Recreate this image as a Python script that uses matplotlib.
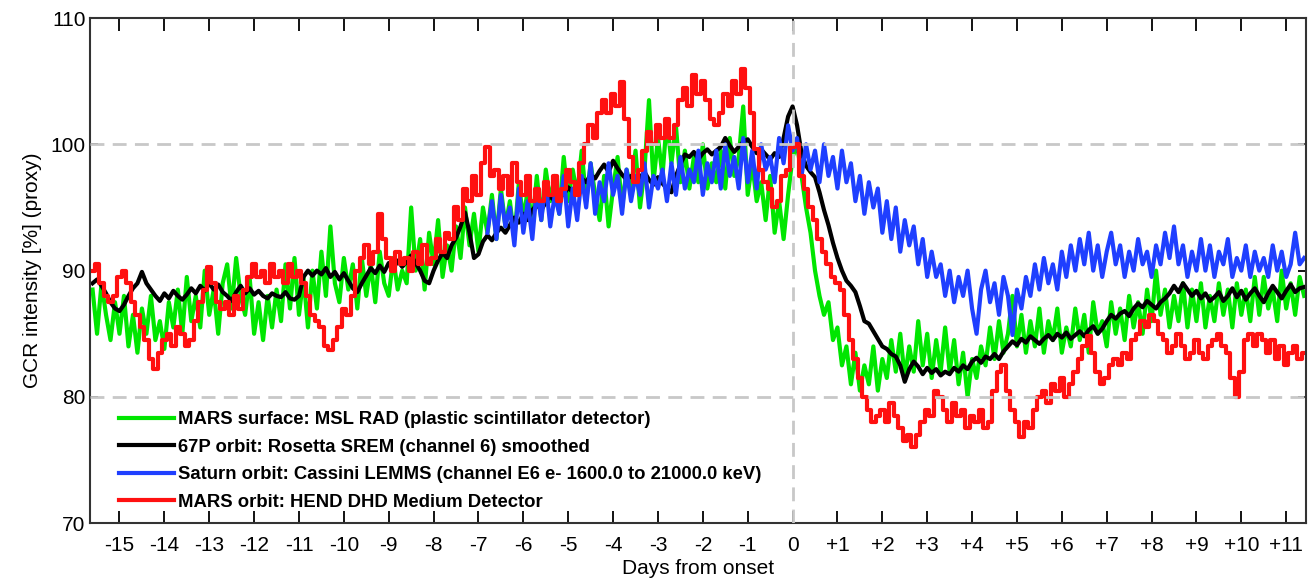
import numpy as np
import matplotlib
matplotlib.use("Agg")
import matplotlib.pyplot as plt

plt.rcParams['font.family'] = ['Liberation Sans', 'DejaVu Sans']

# time axis: days from onset, sampled every 0.1 day
t_start = -15.6
t_start_blue = -6.8
t_step = 0.1

msl_rad = [
    88.5, 85.0, 89.0, 86.5, 84.5, 87.5, 85.0, 88.0, 84.0, 86.5,
    83.5, 87.0, 85.0, 88.0, 84.5, 86.0, 83.8, 87.5, 85.5, 88.5,
    85.0, 89.5, 86.0, 88.0, 85.5, 90.0, 86.5, 88.5, 85.0, 89.0,
    90.5, 87.0, 91.0, 88.0, 86.5, 89.5, 85.0, 87.5, 84.5, 88.0,
    85.5, 88.5, 86.0, 90.5, 87.0, 91.0, 86.5, 89.5, 85.5, 90.0,
    87.0, 91.5, 88.0, 93.5, 89.0, 87.5, 91.0, 88.5, 90.5, 87.0,
    91.0, 88.0, 90.5, 87.5, 91.5, 89.0, 88.0, 91.0, 88.5, 90.0,
    89.0, 95.0, 90.0, 92.5, 88.5, 93.0, 90.5, 94.0, 89.5, 92.0,
    90.0, 93.5, 91.0, 95.0, 92.0, 94.5, 91.5, 95.0, 93.0, 96.0,
    92.5, 96.5, 93.5, 95.5, 92.5, 97.0, 94.0, 96.5, 93.5, 97.5,
    94.0, 98.0, 95.5, 97.5, 94.5, 99.0, 95.5, 98.0, 96.0, 99.5,
    95.5, 98.5, 96.0, 94.0, 97.5, 93.5, 96.5, 99.0, 95.0, 98.0,
    96.5, 99.5, 95.0, 98.0, 103.5, 97.0, 100.5, 97.5, 102.0, 98.5,
    101.5, 97.0, 99.5, 96.5, 99.0, 97.0, 100.0, 96.5, 98.5, 97.0,
    99.5, 96.5, 100.5, 97.5, 99.0, 103.0, 96.0, 98.5, 95.5, 97.0,
    94.0, 97.5, 93.0, 95.5, 92.5, 96.0, 99.0, 100.0, 97.5, 95.0,
    93.0, 90.0, 88.0, 86.5, 87.5, 84.5, 85.5, 82.5, 84.0, 81.0,
    83.5, 80.5, 82.5, 81.0, 84.0, 80.5, 83.0, 81.5, 84.5, 82.0,
    85.0, 81.5, 84.0, 82.0, 86.0, 82.5, 85.0, 81.5, 84.5, 82.0,
    85.5, 82.0, 84.5, 81.0, 83.5, 80.0, 83.0, 81.5, 84.0, 82.5,
    85.5, 83.0, 86.0, 83.5, 85.0, 88.0, 84.0, 86.5, 83.5, 86.0,
    84.0, 87.0, 83.5, 86.0, 84.5, 87.0, 83.5, 85.5, 84.0, 87.0,
    84.5, 86.5, 83.5, 87.5, 85.0, 86.0, 84.0, 87.5, 85.0, 87.0,
    84.5, 88.0, 85.5, 87.5, 85.0, 88.5, 86.0, 90.0, 86.5, 88.5,
    85.5, 88.0, 86.0, 89.0, 85.5, 88.5, 86.0, 89.0, 85.5, 88.0,
    86.0, 89.0, 86.5, 88.5, 85.5, 89.0, 86.5, 88.5, 86.0, 89.5,
    86.5, 89.5, 87.0, 88.5, 86.0, 90.0, 87.0, 89.0, 86.5, 89.5,
    88.0,
]

rosetta_srem = [
    89.0, 89.3, 88.8, 88.2, 87.5, 87.0, 86.8, 87.3, 88.0, 88.6,
    89.0, 89.9, 89.0, 88.5, 88.0, 87.6, 88.2, 87.8, 88.4, 88.0,
    87.7, 88.1, 88.6, 88.2, 88.8, 88.4, 89.0, 88.5, 88.9, 88.3,
    88.0, 87.6, 88.3, 88.8, 88.2, 88.6, 88.1, 88.4, 88.0, 87.8,
    88.2, 88.0, 87.9, 88.3, 87.8, 87.7, 88.0, 89.5, 90.0, 89.6,
    90.0, 89.7, 90.2, 89.5, 89.9, 89.3, 89.8, 89.2, 88.6, 88.3,
    89.0, 89.6, 90.2, 89.8, 90.4, 89.9, 90.6, 90.1, 90.8, 90.3,
    90.7, 91.2, 90.6, 90.0, 89.2, 89.0, 90.0, 90.8, 91.4, 91.0,
    92.0, 92.6, 93.5, 94.6, 93.0, 91.0, 91.3, 92.3, 92.8, 92.4,
    93.0, 93.4, 93.0, 93.6, 94.2, 93.8, 94.5, 94.0, 94.8, 95.2,
    94.8, 95.4, 95.9, 95.5, 96.2, 96.0, 96.6, 96.2, 96.9, 97.3,
    97.0, 97.6, 97.3, 97.9, 98.4, 97.8, 98.7, 98.1, 97.6, 97.2,
    97.5, 97.0, 97.4, 97.8, 97.2, 96.8, 97.4, 96.9, 96.5, 96.2,
    97.5, 98.4, 99.2, 99.0, 99.4, 98.8, 99.3, 99.6, 99.2, 99.5,
    99.8, 100.5, 99.9, 99.4, 99.8, 100.2, 100.4, 99.8, 99.3, 99.6,
    99.2, 98.8, 99.3, 99.0, 100.5, 102.2, 103.0, 101.5, 99.3, 98.3,
    97.8, 97.4, 96.2, 94.8, 93.6, 92.2, 91.0, 90.0, 89.2, 88.8,
    88.3, 87.2, 86.0, 85.8, 85.2, 84.6, 84.0, 83.8, 83.4, 83.2,
    82.5, 81.2, 82.2, 82.8, 82.4, 81.8, 82.3, 81.9, 82.2, 81.7,
    82.0, 81.8, 82.3, 82.0, 82.5, 82.2, 82.8, 83.1, 82.7, 83.2,
    83.0, 83.4, 83.0, 83.6, 84.0, 84.4, 84.1, 84.6, 84.3, 84.8,
    84.5, 84.2, 84.6, 84.9, 84.5, 85.0, 84.7, 85.1, 84.6, 84.9,
    85.2, 84.8, 85.3, 85.6, 85.0, 85.4, 86.0, 86.5, 86.2, 86.6,
    86.8, 86.4, 87.0, 87.4, 87.1, 87.6, 87.3, 87.0, 87.5, 87.8,
    88.2, 88.8, 88.3, 89.0, 88.5, 88.0, 88.4, 87.8, 88.2, 87.6,
    87.9, 88.3, 87.6, 88.0, 88.6, 87.9, 88.4, 87.7, 88.2, 88.6,
    88.0, 87.5, 88.2, 88.8, 88.3, 87.8, 88.4, 88.9, 88.3, 88.6,
    88.7,
]

cassini_lemms = [
    93.0, 95.5, 92.5, 96.0, 93.5, 95.0, 92.0, 96.5, 93.0, 95.5,
    92.5, 96.5, 94.0, 97.0, 93.5, 96.0, 94.5, 97.5, 93.5, 96.5,
    94.0, 97.5, 95.0, 98.5, 94.5, 97.0, 95.5, 98.5, 96.0, 97.5,
    94.5, 98.0, 95.5, 97.5, 96.0, 98.5, 95.0, 97.5, 96.5, 98.0,
    95.5, 98.5, 96.0, 99.0, 96.5, 98.0, 97.0, 99.5, 96.0, 98.5,
    97.0, 99.5, 96.5, 100.0, 97.5, 99.0, 96.5, 100.5, 97.0, 99.5,
    96.5, 100.0, 98.0, 99.0, 97.0, 100.5, 98.5, 101.5, 99.5, 100.5,
    97.5, 100.0, 98.0, 99.5, 97.0, 100.0, 97.5, 99.0, 96.5, 99.5,
    97.0, 98.5, 95.5, 97.5, 94.5, 97.0, 95.0, 96.5, 93.0, 95.5,
    92.5, 95.0, 91.5, 94.0, 92.0, 93.5, 90.5, 92.5, 89.5, 91.5,
    89.5, 90.5, 88.0, 90.0, 87.5, 89.5, 88.0, 90.0, 87.0, 85.0,
    88.5, 90.0, 87.5, 89.0, 86.5, 89.5, 88.0, 84.9, 88.5, 87.0,
    89.5, 88.0, 90.5, 88.5, 91.0, 89.0, 90.5, 88.5, 91.5, 89.5,
    92.0, 90.0, 92.5, 90.5, 93.0, 90.0, 92.0, 89.5, 91.5, 93.0,
    90.5, 92.0, 89.5, 91.5, 90.0, 92.5, 90.5, 91.5, 89.5, 92.0,
    90.5, 93.0, 91.0, 93.5, 90.5, 92.0, 89.5, 91.5, 90.0, 92.5,
    90.0, 92.0, 89.5, 91.5, 90.5, 92.5, 89.5, 91.0, 90.0, 92.0,
    89.5, 91.5, 90.0, 91.0, 89.5, 92.0, 90.0, 91.5, 89.5, 90.5,
    93.0, 90.5, 91.0,
]

hend_dhd = [
    90.0, 90.5, 89.0, 88.0, 87.5, 88.0, 89.5, 90.0, 89.0, 87.5,
    86.5, 85.5, 84.5, 83.0, 82.2, 83.5, 84.5, 85.0, 84.0, 85.5,
    85.0, 84.0, 84.5, 86.0, 87.5, 88.5, 90.3, 89.0, 87.5, 87.0,
    87.5, 86.5, 88.0, 87.0, 88.5, 89.5, 90.5, 89.5, 90.0, 89.0,
    90.5, 89.5, 90.0, 89.0, 90.5, 89.5, 90.0, 89.0, 88.0, 86.5,
    86.0, 85.5, 84.0, 83.7, 84.5, 85.5, 87.0, 86.5, 88.0, 90.0,
    91.0, 92.0, 90.5, 91.5, 94.5, 92.5, 91.0, 90.0, 91.5, 90.5,
    91.0, 90.0, 91.5, 90.5, 92.0, 90.5, 91.0, 92.5, 91.5, 93.0,
    92.5, 95.0, 94.0, 96.5, 95.5, 97.5, 96.0, 98.5, 99.8, 97.5,
    98.0, 96.5, 97.5, 96.0, 98.5, 97.0, 96.0, 97.5, 95.5, 96.5,
    95.5, 97.0, 96.0, 97.5, 95.5, 96.5, 98.0, 97.0, 96.0, 98.5,
    100.0, 101.5, 100.5, 102.5, 103.5, 102.5, 104.0, 103.0, 104.9, 102.0,
    99.0, 97.0, 98.0, 99.5, 101.0, 100.0, 101.5, 100.5, 102.0, 100.5,
    101.5, 103.5, 104.5, 103.0, 105.5, 104.0, 105.0, 103.5, 102.0, 101.5,
    102.5, 104.0, 103.0, 105.0, 104.0, 106.0, 104.5, 102.5, 99.6, 98.0,
    97.0, 96.5, 95.0, 95.5, 97.5, 98.0, 99.8, 100.0, 97.5, 96.5,
    95.0, 94.0, 92.5, 91.5, 90.5, 89.5, 89.0, 88.5, 86.5, 84.5,
    83.0, 81.5, 80.0, 79.0, 78.0, 78.5, 79.0, 78.0, 79.5, 78.5,
    77.5, 76.5, 77.0, 76.0, 77.0, 78.0, 79.0, 78.5, 80.5, 80.0,
    79.0, 78.0, 79.5, 78.5, 79.0, 77.5, 78.5, 78.0, 79.0, 77.5,
    78.0, 80.5, 82.0, 82.5, 80.5, 79.0, 78.0, 76.8, 78.0, 77.5,
    79.0, 80.0, 80.5, 79.5, 81.0, 80.5, 81.5, 80.0, 81.0, 82.0,
    83.0, 84.0, 84.8, 83.5, 82.0, 81.0, 81.5, 82.5, 83.0, 82.5,
    83.5, 83.0, 84.5, 85.0, 86.0, 85.5, 86.5, 86.0, 85.0, 84.5,
    83.5, 84.0, 85.0, 84.0, 83.0, 83.5, 84.5, 83.5, 83.0, 84.0,
    84.5, 85.0, 84.0, 83.5, 81.5, 80.0, 82.0, 84.5, 85.0, 84.0,
    85.0, 84.5, 83.5, 84.5, 83.0, 84.0, 82.5, 83.5, 84.0, 83.0,
    83.5,
]

labels = [
    "MARS surface: MSL RAD (plastic scintillator detector)",
    "67P orbit: Rosetta SREM (channel 6) smoothed",
    "Saturn orbit: Cassini LEMMS (channel E6 e- 1600.0 to 21000.0 keV)",
    "MARS orbit: HEND DHD Medium Detector",
]
colors = ["#00e600", "black", "#1f3fff", "#ff1010"]

days = np.arange(-15, 12)
day_labels = [str(d) if d <= 0 else "+" + str(d) for d in days]

t_main = t_start + t_step * np.arange(len(msl_rad))
t_blue = t_start_blue + t_step * np.arange(len(cassini_lemms))

fig = plt.figure(figsize=(13.09, 5.82), dpi=100)
ax = fig.add_axes([0.069, 0.101, 0.929, 0.868])

ax.plot(t_main, msl_rad, color=colors[0], lw=3.0, label=labels[0])
ax.plot(t_main, rosetta_srem, color=colors[1], lw=3.0, label=labels[1])
ax.plot(t_blue, cassini_lemms, color=colors[2], lw=3.0, label=labels[2])
ax.plot(t_main, hend_dhd, color=colors[3], lw=3.0, drawstyle="steps-mid", label=labels[3])

# dashed reference lines
for yv in [80, 100]:
    ax.axhline(yv, color="#c8c8c8", lw=2, ls=(0, (5, 3)), zorder=5)
ax.axvline(0, color="#c8c8c8", lw=2, ls=(0, (5, 3)), zorder=5)

ax.set_xlim(-15.65, 11.45)
ax.set_ylim(70, 110)
ax.set_xticks(days)
ax.set_xticklabels(day_labels)
ax.set_yticks([70, 80, 90, 100, 110])
ax.tick_params(axis="x", direction="in", top=True, length=9, width=1.3, labelsize=15, pad=9)
ax.tick_params(axis="y", direction="in", right=True, length=6, width=1.3, labelsize=15)
for sp in ax.spines.values():
    sp.set_linewidth(1.5)
    sp.set_color("#333333")

ax.set_xlabel("Days from onset", fontsize=15, labelpad=3)
ax.set_ylabel("GCR intensity [%] (proxy)", fontsize=15, labelpad=6)

leg = ax.legend(loc="lower left", bbox_to_anchor=(0.010, -0.008), frameon=False,
                prop={"size": 13.3, "weight": "bold"}, handlelength=2.95,
                handletextpad=0.22, labelspacing=0.57)
for line in leg.get_lines():
    line.set_linewidth(3.0)

fig.savefig("out.png", dpi=100)
